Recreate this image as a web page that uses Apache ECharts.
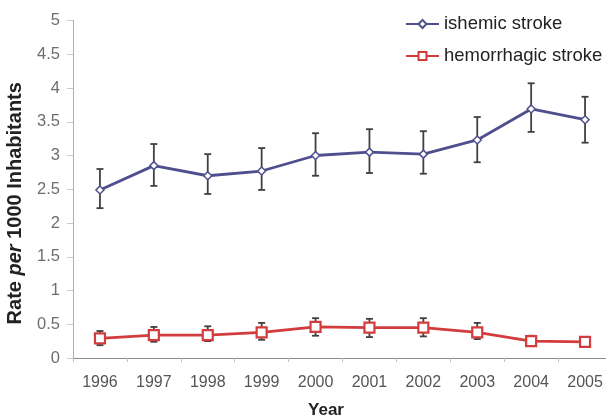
<!DOCTYPE html>
<html>
<head>
<meta charset="utf-8">
<script src="https://cdn.jsdelivr.net/npm/echarts@6/dist/echarts.min.js"></script>
<style>
  html, body { margin: 0; padding: 0; background: #fff; }
  #chart { width: 606px; height: 420px; }
</style>
</head>
<body>
<div id="chart"></div>
<script>
// Stroke incidence per 1000 inhabitants, 1996-2005
const years = ['1996', '1997', '1998', '1999', '2000', '2001', '2002', '2003', '2004', '2005'];

const ischemicRate = [2.49, 2.85, 2.70, 2.77, 3.00, 3.05, 3.02, 3.23, 3.69, 3.53];
const ischemicLow  = [2.22, 2.55, 2.43, 2.49, 2.70, 2.74, 2.73, 2.90, 3.35, 3.19];
const ischemicHigh = [2.80, 3.17, 3.02, 3.11, 3.33, 3.39, 3.36, 3.57, 4.07, 3.87];

const hemorrhagicRate = [0.29, 0.34, 0.34, 0.38, 0.46, 0.45, 0.45, 0.38, 0.25, 0.24];
const hemorrhagicLow  = [0.19, 0.24, 0.25, 0.27, 0.33, 0.31, 0.32, 0.28, 0.18, 0.18];
const hemorrhagicHigh = [0.40, 0.46, 0.47, 0.52, 0.59, 0.58, 0.59, 0.52, 0.33, 0.31];

const yTicks = [0, 0.5, 1, 1.5, 2, 2.5, 3, 3.5, 4, 4.5, 5];

const FONT = '"Liberation Sans", Arial, sans-serif';
const BLUE = '#4f4f8e';
const RED = '#d23c3c';

function errorBarItem(params, api) {
  const x = api.value(0);
  const lo = api.coord([x, api.value(1)]);
  const hi = api.coord([x, api.value(2)]);
  const cap = 3.5;
  const style = { stroke: '#404040', lineWidth: 1.8 };
  return {
    type: 'group',
    children: [
      { type: 'line', shape: { x1: lo[0], y1: lo[1], x2: hi[0], y2: hi[1] }, style },
      { type: 'line', shape: { x1: lo[0] - cap, y1: lo[1], x2: lo[0] + cap, y2: lo[1] }, style },
      { type: 'line', shape: { x1: hi[0] - cap, y1: hi[1], x2: hi[0] + cap, y2: hi[1] }, style }
    ]
  };
}

const ischemicBars = years.map((y, i) => [i, ischemicLow[i], ischemicHigh[i]]);
const hemorrhagicBars = years.map((y, i) => [i, hemorrhagicLow[i], hemorrhagicHigh[i]]);

const chart = echarts.init(document.getElementById('chart'), null, { renderer: 'canvas' });

chart.setOption({
  animation: false,
  backgroundColor: '#ffffff',
  textStyle: { fontFamily: FONT },
  grid: { left: 73, top: 20.5, width: 539, height: 337.5, containLabel: false, outerBoundsMode: 'none' },
  legend: {
    orient: 'vertical',
    left: 400,
    top: 8,
    itemWidth: 33,
    itemHeight: 10,
    itemGap: 10,
    textStyle: { fontFamily: FONT, fontSize: 18.5, lineHeight: 22, color: '#222' },
    data: ['ishemic stroke', 'hemorrhagic stroke']
  },
  xAxis: {
    type: 'category',
    data: years,
    boundaryGap: true,
    name: 'Year',
    nameLocation: 'middle',
    nameGap: 44,
    nameTextStyle: { fontFamily: FONT, fontSize: 17, fontWeight: 'bold', color: '#222', padding: [0, 0, 0, -33] },
    axisLine: { lineStyle: { color: '#8a8a8a', width: 1 } },
    axisTick: { show: true, length: 4, lineStyle: { color: '#c0c0c0' } },
    axisLabel: { fontFamily: FONT, fontSize: 16, color: '#555', margin: 17 },
    splitLine: { show: false }
  },
  yAxis: {
    type: 'value',
    min: 0,
    max: 5,
    interval: 0.5,
    name: 'Rate {i|per} 1000 Inhabitants',
    nameLocation: 'middle',
    nameGap: 48,
    nameTextStyle: {
      fontFamily: FONT, fontSize: 20, fontWeight: 'bold', color: '#222',
      padding: [0, 0, 0, -28],
      rich: { i: { fontFamily: FONT, fontSize: 20, fontWeight: 'bold', fontStyle: 'italic', color: '#222' } }
    },
    axisLine: { show: true, lineStyle: { color: '#b0b0b0', width: 1 } },
    axisTick: { show: true, length: 6, lineStyle: { color: '#c8c8c8' } },
    axisLabel: {
      fontFamily: FONT, fontSize: 16.5, color: '#6e6e6e', margin: 13,
      formatter: v => (yTicks.includes(v) ? String(v) : '')
    },
    splitLine: { show: false }
  },
  series: [
    {
      name: 'ishemic-err',
      type: 'custom',
      renderItem: errorBarItem,
      data: ischemicBars,
      encode: { x: 0, y: [1, 2] },
      z: 1,
      silent: true
    },
    {
      name: 'hemorrhagic-err',
      type: 'custom',
      renderItem: errorBarItem,
      data: hemorrhagicBars,
      encode: { x: 0, y: [1, 2] },
      z: 1,
      silent: true
    },
    {
      name: 'ishemic stroke',
      type: 'line',
      data: ischemicRate,
      symbol: 'diamond',
      symbolSize: 8,
      showAllSymbol: true,
      lineStyle: { color: BLUE, width: 2.8 },
      itemStyle: { color: '#ffffff', borderColor: BLUE, borderWidth: 1.5 },
      z: 3
    },
    {
      name: 'hemorrhagic stroke',
      type: 'line',
      data: hemorrhagicRate,
      symbol: 'rect',
      symbolSize: 10,
      showAllSymbol: true,
      lineStyle: { color: RED, width: 2.8 },
      itemStyle: { color: '#ffffff', borderColor: RED, borderWidth: 2.2 },
      z: 3
    }
  ]
});
</script>
</body>
</html>
